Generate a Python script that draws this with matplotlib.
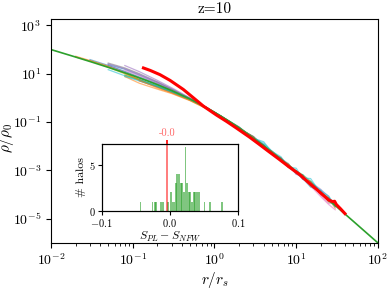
import numpy as np
import matplotlib
matplotlib.use('Agg')
import matplotlib.pyplot as plt
from matplotlib.ticker import NullLocator, FixedLocator, FixedFormatter

plt.rcParams['font.family'] = 'serif'
plt.rcParams['font.serif'] = ['cmr10']
plt.rcParams['mathtext.fontset'] = 'cm'
plt.rcParams['axes.unicode_minus'] = False

# ---- data ----

# NFW reference profile (green)
nfw_r = [0.01, 0.02, 0.03, 0.05, 0.08, 0.1, 0.15, 0.2, 0.3, 0.5, 0.7, 1.0, 1.5, 2.0, 3.0,
         4.0, 5.0, 7.0, 10.0, 15.0, 20.0, 30.0, 50.0, 70.0, 100.0]
nfw_rho = [98.0, 48.1, 31.4, 18.1, 10.7, 8.26, 5.04, 3.47, 1.97, 0.889, 0.494, 0.25, 0.107,
           0.0556, 0.0208, 0.0100, 0.00556, 0.00223, 8.26e-4, 2.60e-4, 1.13e-4, 3.47e-5,
           7.69e-6, 2.83e-6, 9.8e-7]

# stacked halo (red)
stack_r = [0.135, 0.163, 0.215, 0.286, 0.415, 0.55, 0.73, 1.06, 1.4, 1.86, 2.7, 3.5, 4.5,
           6.3, 8.0, 11.1, 14.0, 17.8, 22.0, 25.0, 28.0, 29.5, 31.0, 35.0, 39.5]
stack_rho = [17.0, 13.5, 9.0, 5.2, 2.2, 1.0, 0.45, 0.19, 0.105, 0.055, 0.023, 0.012, 0.0063,
             0.0027, 0.00145, 6.5e-4, 3.2e-4, 1.6e-4, 8.5e-5, 5.8e-5, 5.0e-5, 5.2e-5, 3.8e-5,
             2.5e-5, 1.6e-5]

# individual halos (thin lines), shared radial grid; each list ends at r = 30
halo_r = [0.02, 0.03, 0.05, 0.08, 0.12, 0.2, 0.3, 0.5, 0.8, 1.2, 2, 3, 4, 5, 6.5, 8, 10, 12,
          15, 20, 25, 30]
halo_a = [48.1, 33.0, 19.9, 10.7, 5.64, 2.78, 1.67, 0.800, 0.367, 0.172, 0.0556, 0.0240,
          0.0085, 0.00620, 0.00301, 0.00130, 9.50e-4, 5.42e-4, 2.10e-4, 1.30e-4, 6.81e-5, 3.90e-5]
halo_b = [23.5, 15.0, 8.63, 4.16, 2.17, 0.889, 0.367, 0.172, 0.0500, 0.0250, 0.0090, 0.00560,
          0.00250, 0.00175, 7.00e-4, 6.50e-4, 2.20e-4, 1.35e-4, 5.00e-5, 4.20e-5]
halo_c = [21.4, 12.0, 5.21, 2.56, 0.978, 0.386, 0.172, 0.0528, 0.0230, 0.0115, 0.00480,
          0.00300, 0.00190, 6.80e-4, 5.40e-4, 3.20e-4, 1.60e-4, 8.00e-5, 3.00e-5]
halo_d = [27.2, 17.1, 9.96, 4.51, 2.27, 0.933, 0.386, 0.172, 0.0620, 0.0185, 0.0112, 0.00470,
          0.00320, 0.00140, 9.00e-4, 4.20e-4, 3.40e-4, 1.05e-4, 7.00e-5, 3.20e-5]
halo_e = [7.49, 4.98, 2.78, 1.67, 0.800, 0.367, 0.172, 0.0556, 0.0208, 0.0130, 0.00640,
          0.00290, 0.00140, 1.20e-3, 4.60e-4, 2.00e-4, 1.40e-4, 8.50e-5, 3.20e-5]
halo_f = [7.49, 3.98, 2.26, 1.48, 0.756, 0.347, 0.163, 0.0530, 0.0235, 0.0092, 0.00520,
          0.00330, 0.00140, 8.50e-4, 4.50e-4, 3.40e-4, 9.50e-5, 6.50e-5, 2.70e-5]
halo_g = [21.7, 11.8, 6.64, 3.47, 1.87, 0.889, 0.386, 0.163, 0.0600, 0.0200, 0.0098, 0.00500,
          0.00300, 0.00150, 8.60e-4, 4.40e-4, 3.20e-4, 9.00e-5, 4.20e-5, 4.20e-5]
halo_h = [34.5, 18.1, 9.63, 5.64, 2.78, 1.67, 0.800, 0.367, 0.172, 0.0528, 0.0225, 0.0096,
          0.00580, 0.00250, 0.00185, 7.50e-4, 5.10e-4, 2.60e-4, 1.25e-4, 4.80e-5, 3.80e-5]
halo_i = [4.98, 2.78, 1.67, 0.845, 0.386, 0.172, 0.0528, 0.0235, 0.0092, 0.00600, 0.00230,
          0.00175, 7.60e-4, 5.90e-4, 2.30e-4, 1.12e-4, 6.00e-5, 3.80e-5]
halo_j = [14.5, 8.03, 5.31, 2.95, 1.77, 0.845, 0.386, 0.172, 0.0584, 0.0208, 0.0100, 0.00612,
          0.00360, 0.00140, 8.00e-4, 4.70e-4, 2.80e-4, 1.50e-4, 5.20e-5, 3.70e-5]
halo_k = [37.7, 21.7, 12.3, 7.3, 3.8, 2.07, 0.90, 0.37, 0.165, 0.0580, 0.0195, 0.0110, 0.0053,
          0.0031, 0.00135, 9.5e-4, 4.3e-4, 2.8e-4, 1.1e-4, 6.2e-5, 3.3e-5]
halo_l = [13.9, 8.3, 4.0, 2.1, 0.86, 0.37, 0.17, 0.056, 0.0190, 0.0092, 0.0050, 0.0026,
          0.00135, 7.2e-4, 4.5e-4, 2.2e-4, 8.0e-5, 3.8e-5, 2.3e-5]
halo_m = [8.6, 5.6, 3.1, 1.85, 0.87, 0.39, 0.175, 0.060, 0.0225, 0.0110, 0.0060, 0.00300,
          0.0017, 9.4e-4, 6.5e-4, 3.5e-4, 1.25e-4, 7.0e-5, 4.0e-5]
halo_n = [5.6, 3.0, 1.8, 0.86, 0.38, 0.17, 0.055, 0.021, 0.0150, 0.0057, 0.0028, 0.0016,
          8.4e-4, 4.8e-4, 4.5e-4, 1.1e-4, 6.0e-5, 3.3e-5]
halo_o = [25.3, 16.0, 9.3, 4.5, 2.3, 0.95, 0.40, 0.17, 0.054, 0.0225, 0.0092, 0.0061, 0.0025,
          0.00170, 7.6e-4, 5.4e-4, 2.5e-4, 1.30e-4, 5.4e-5, 4.0e-5]
halo_p = [52.0, 34.5, 20.0, 10.2, 5.3, 2.5, 1.55, 0.78, 0.36, 0.168, 0.0520, 0.022, 0.0092,
          0.0060, 0.0026, 0.00165, 7.8e-4, 5.2e-4, 2.4e-4, 1.2e-4, 5.5e-5, 3.9e-5]
halos = [halo_a, halo_b, halo_c, halo_d, halo_e, halo_f, halo_g, halo_h,
         halo_i, halo_j, halo_k, halo_l, halo_m, halo_n, halo_o, halo_p]
halo_colors = ['C1', 'C0', 'C4', 'C7', 'C9', 'C1', 'C6', 'C8',
               'C5', 'C9', 'C0', 'C6', 'C2', 'C9', 'C4', 'C1']

# inset histogram of S_PL - S_NFW
hist_centers = [-0.043, -0.0255, -0.022, -0.0205, -0.0125, -0.0105, -0.003, 0.0015, 0.004,
                0.0065, 0.009, 0.011, 0.0135, 0.016, 0.018, 0.0205, 0.023, 0.0255, 0.028,
                0.030, 0.0325, 0.035, 0.0375, 0.040, 0.0425, 0.051, 0.0585, 0.0765]
hist_counts = [1, 1, 1, 1, 1, 1, 1, 2, 1, 1, 3, 4, 4, 3, 3, 2, 7, 3, 2, 2, 1, 2, 2, 2, 2, 1, 1, 1]
median_diff = -0.0045

# ---- plot ----
fig = plt.figure(figsize=(3.9, 2.93), dpi=100)
ax = fig.add_axes([0.131, 0.171, 0.838, 0.764])

for prof, col in zip(halos, halo_colors):
    ax.plot(halo_r[len(halo_r) - len(prof):], prof, color=col, lw=0.9, alpha=0.55)
ax.plot(nfw_r, nfw_rho, color='C2', lw=1.2)
ax.plot(stack_r, stack_rho, color='red', lw=2.2)

ax.set_xscale('log')
ax.set_yscale('log')
ax.set_xlim(1e-2, 1e2)
ax.set_ylim(9.8e-7, 1.8e3)
ax.yaxis.set_minor_locator(NullLocator())
ax.tick_params(labelsize=10)
ax.set_xlabel(r'$r/r_s$', fontsize=11, labelpad=1)
ax.set_ylabel(r'$\rho/\rho_0$', fontsize=11)
ax.yaxis.set_label_coords(-0.108, 0.47)
ax.set_title('z=10', fontsize=11, pad=4)

# inset
ins = fig.add_axes([0.261, 0.281, 0.349, 0.228])
ins.bar(hist_centers, hist_counts, width=0.0026, color='C2', alpha=0.6)
ins.axvline(median_diff, color='red', alpha=0.6, lw=1.2)
ins.set_xlim(-0.1, 0.1)
ins.xaxis.set_major_locator(FixedLocator([-0.1, 0.0, 0.1]))
ins.xaxis.set_major_formatter(FixedFormatter([r'$-0.1$', r'$0.0$', r'$0.1$']))
ins.yaxis.set_major_locator(FixedLocator([0, 5]))
ins.yaxis.set_major_formatter(FixedFormatter([r'$0$', r'$5$']))
ins.tick_params(labelsize=7.5, length=3, pad=1.5)
ins.set_xlabel(r'$S_{PL}-S_{NFW}$', fontsize=8.5, labelpad=1)
ins.set_ylabel('# halos', fontsize=8.5, labelpad=2)

top = ins.twiny()
top.set_xlim(-0.1, 0.1)
top.set_xticks([median_diff])
top.set_xticklabels(['-0.0'])
top.tick_params(colors='red', labelsize=7.5, length=3, pad=1.5, width=1.2)
for lab in top.get_xticklabels():
    lab.set_alpha(0.6)

fig.savefig('out.png', dpi=100)
